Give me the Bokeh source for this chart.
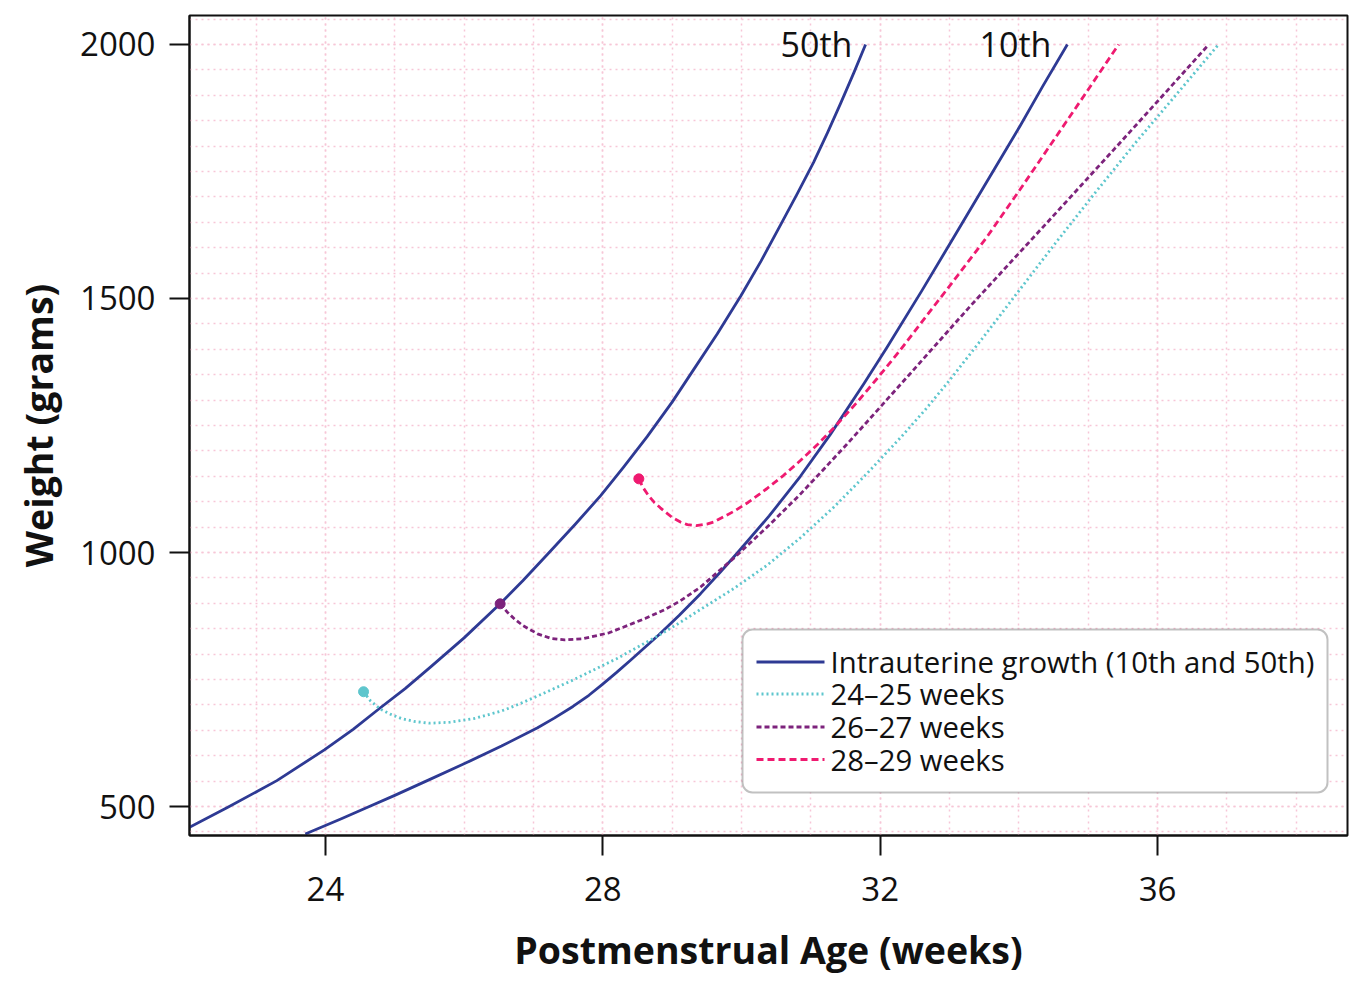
from bokeh.plotting import figure
from bokeh.models import FixedTicker, BoxAnnotation, Range1d
from bokeh.core.properties import value
from bokeh.embed import file_html
from bokeh.resources import INLINE

# ---- data ----
p50_x = [22.04, 22.60, 23.30, 23.99, 24.40, 24.77, 25.15, 25.51, 26.00, 26.52, 26.85, 27.20, 27.60, 27.97,
         28.30, 28.64, 29.00, 29.31, 29.65, 29.99, 30.28, 30.56, 30.80, 31.04, 31.24, 31.43, 31.62, 31.79]
p50_y = [459, 499, 551, 612, 652, 692, 732, 774, 832, 899, 945, 996, 1055, 1112,
         1168, 1228, 1296, 1360, 1430, 1505, 1573, 1644, 1705, 1768, 1826, 1884, 1944, 2000]

p10_x = [23.71, 24.23, 24.60, 25.00, 25.50, 26.03, 26.54, 27.06, 27.30, 27.57, 27.80, 27.99, 28.20, 28.40,
         28.81, 29.10, 29.41, 29.70, 29.94, 30.40, 30.85, 31.28, 31.77, 32.10, 32.60, 33.06, 33.50, 34.02, 34.35, 34.70]
p10_y = [446, 476, 498, 522, 553, 586, 619, 655, 674, 697, 719, 740, 764, 788,
         838, 876, 919, 962, 999, 1072, 1150, 1232, 1333, 1404, 1515, 1620, 1721, 1840, 1919, 2000]

w2425_x = [24.55, 24.65, 24.79, 24.95, 25.10, 25.30, 25.51, 25.80, 26.14, 26.54, 26.80, 27.10, 27.57, 28.20,
           28.81, 29.10, 29.41, 29.90, 30.37, 30.85, 31.33, 31.80, 32.30, 32.65, 32.99, 33.54, 34.00, 34.50,
           35.10, 35.71, 36.30, 36.88]
w2425_y = [726, 708, 692, 681, 673, 667, 664, 666, 673, 688, 702, 720, 749, 791,
           837, 861, 888, 930, 975, 1029, 1089, 1154, 1227, 1281, 1337, 1433, 1515, 1604,
           1708, 1811, 1906, 2000]

w2627_x = [26.52, 26.62, 26.72, 26.85, 27.06, 27.25, 27.45, 27.70, 28.09, 28.61, 28.90, 29.12, 29.41, 29.89,
           30.40, 30.85, 31.20, 31.52, 31.81, 32.40, 33.30, 34.50, 35.47, 36.10, 36.74]
w2627_y = [899, 883, 870, 856, 840, 831, 828, 830, 842, 870, 888, 905, 932, 989,
           1054, 1115, 1166, 1213, 1257, 1347, 1485, 1663, 1808, 1903, 2000]

w2829_x = [28.52, 28.58, 28.66, 28.74, 28.83, 29.00, 29.12, 29.22, 29.35, 29.50, 29.60, 29.89, 30.10, 30.37,
           30.60, 30.85, 31.10, 31.33, 31.65, 31.96, 32.27, 32.58, 33.06, 33.54, 34.02, 34.50, 34.97, 35.44]
w2829_y = [1145, 1128, 1112, 1099, 1088, 1069, 1060, 1055, 1053, 1056, 1060, 1081, 1099, 1126,
           1151, 1181, 1213, 1245, 1293, 1343, 1395, 1450, 1535, 1621, 1715, 1811, 1905, 2000]

x_ticks = [24, 28, 32, 36]
y_ticks = [500, 1000, 1500, 2000]
x_minor = list(range(22, 39))
y_minor = list(range(450, 2051, 50))

percentile_labels = ["50th", "10th"]
legend_labels = ["Intrauterine growth (10th and 50th)", "24\u201325 weeks", "26\u201327 weeks", "28\u201329 weeks"]

NAVY = "#2e3a94"
CYAN = "#5ec6cd"
PURPLE = "#7d237c"
PINK = "#ef1a70"
FONT = "Open Sans"
INK = "#111111"

X0, X1 = 22.04, 38.74
Y0, Y1 = 443, 2057
W, H = 1360, 977
BL, BR, BT = 189, 13, 15
BB = 142
FW = W - BL - BR
FH = H - BT - BB


def px_x(px):
    return X0 + (px - BL) / FW * (X1 - X0)


def px_y(py):
    return Y1 - (py - BT) / FH * (Y1 - Y0)


p = figure(width=W, height=H, output_backend="svg", toolbar_location=None,
           x_range=Range1d(X0, X1), y_range=Range1d(Y0, Y1),
           min_border_left=BL, min_border_right=BR, min_border_top=BT, min_border_bottom=BB)
p.background_fill_color = "white"
p.border_fill_color = "white"
p.outline_line_color = INK
p.outline_line_width = 2

# page frame of the source figure (green margin, thin red border)
for l, r, t, b, col in ((0, 16, 0, H, "#eef4ec"), (16, W, 0, 4, "#f6f9f4"),
                        (16, 17.5, 4, H, "#c8102e"), (16, W, 4, 5.5, "#c8102e")):
    p.add_layout(BoxAnnotation(left=l, right=r, top=t, bottom=b,
                               left_units="canvas", right_units="canvas",
                               top_units="canvas", bottom_units="canvas",
                               fill_color=col, fill_alpha=1.0, line_color=None))

for ax, ticks, minor in ((p.xaxis[0], x_ticks, x_minor), (p.yaxis[0], y_ticks, y_minor)):
    ax.ticker = FixedTicker(ticks=ticks, minor_ticks=minor)
    ax.axis_line_color = INK
    ax.axis_line_width = 2
    ax.major_tick_line_color = INK
    ax.major_tick_line_width = 2
    ax.major_tick_out = 20
    ax.major_tick_in = 0
    ax.minor_tick_line_color = None
    ax.major_label_text_font = FONT
    ax.major_label_text_font_size = "33px"
    ax.major_label_text_color = INK
    ax.axis_label_text_font = FONT
    ax.axis_label_text_font_size = "37.5px"
    ax.axis_label_text_font_style = "bold"
    ax.axis_label_text_color = INK

p.xaxis.axis_label = "Postmenstrual Age (weeks)"
p.yaxis.axis_label = "Weight (grams)"
p.xaxis.major_label_standoff = 21
p.yaxis.major_label_standoff = 14
p.xaxis.axis_label_standoff = 20
p.yaxis.axis_label_standoff = 13

for g in (p.xgrid[0], p.ygrid[0]):
    g.grid_line_color = "#f7c6d7"
    g.grid_line_dash = "2 4"
    g.grid_line_width = 1.5
    g.minor_grid_line_color = "#f7c6d7"
    g.minor_grid_line_dash = "2 4"
    g.minor_grid_line_width = 1.5

LW = 2.8
DOT, DASH_S, DASH_L = "2 3", "5 3", "7 4"
p.line(p50_x, p50_y, line_color=NAVY, line_width=LW, line_join="round")
p.line(p10_x, p10_y, line_color=NAVY, line_width=LW, line_join="round")
p.line(w2425_x, w2425_y, line_color=CYAN, line_width=LW, line_dash=DOT, line_join="round")
p.line(w2627_x, w2627_y, line_color=PURPLE, line_width=LW, line_dash=DASH_S, line_join="round")
p.line(w2829_x, w2829_y, line_color=PINK, line_width=LW, line_dash=DASH_L, line_join="round")

p.scatter([w2425_x[0]], [w2425_y[0]], size=10, fill_color=CYAN, line_color=CYAN)
p.scatter([w2627_x[0]], [w2627_y[0]], size=10, fill_color=PURPLE, line_color=PURPLE)
p.scatter([w2829_x[0]], [w2829_y[0]], size=10, fill_color=PINK, line_color=PINK)

p.text([p50_x[-1] - 0.19, p10_x[-1] - 0.23], [p50_y[-1], p10_y[-1]], text=percentile_labels,
       text_font=value(FONT), text_font_size="34px", text_color=INK,
       text_align="right", text_baseline="middle")

# ---- legend, laid out in pixels like the reference ----
box = BoxAnnotation(left=px_x(742), right=px_x(1327), top=px_y(629), bottom=px_y(792),
                    fill_color="white", fill_alpha=1.0, line_color="#333333", line_width=2,
                    border_radius=10)
p.add_layout(box)

row_py = [661.5, 693.5, 726.5, 759]
styles = [(NAVY, "solid"), (CYAN, DOT), (PURPLE, DASH_S), (PINK, DASH_L)]
for py, (col, dash) in zip(row_py, styles):
    r = p.segment(x0=[px_x(756)], y0=[px_y(py)], x1=[px_x(824)], y1=[px_y(py)],
                  line_color=col, line_width=2.8, line_dash=dash)
    r.level = "overlay"
t = p.text([px_x(830)] * 4, [px_y(py) for py in row_py], text=legend_labels,
           text_font=value(FONT), text_font_size="29.3px", text_color=INK,
           text_align="left", text_baseline="middle")
t.level = "overlay"

open("out.html", "w").write(file_html(p, INLINE))
